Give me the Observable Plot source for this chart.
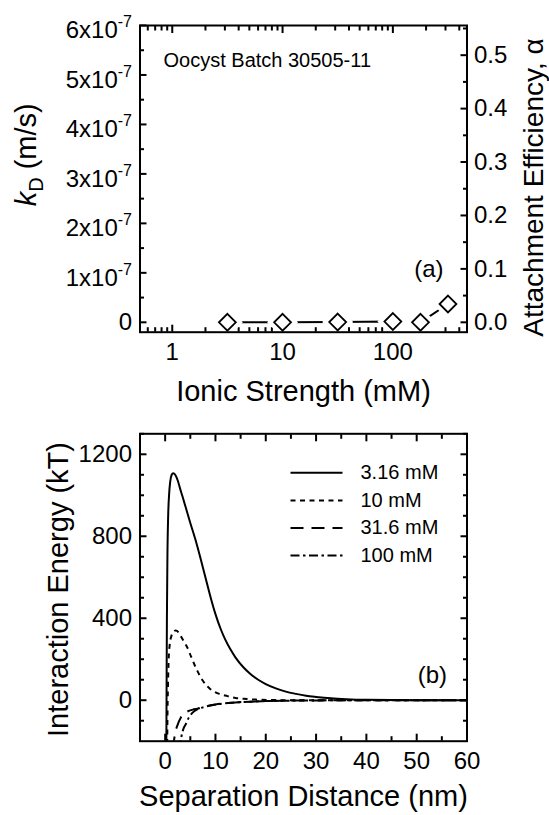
<!DOCTYPE html>
<html><head><meta charset="utf-8">
<script src="https://cdn.jsdelivr.net/npm/d3@7"></script>
<script src="https://cdn.jsdelivr.net/npm/@observablehq/plot@0.6"></script>
<style>
body{margin:0;background:#fff;}
#chart{width:549px;}
svg{display:block;}
</style></head><body><div id="chart"></div>
<script>
// ---------- Panel (a) data ----------
const ionicStrength = [3.16, 10, 31.6, 100, 178, 316];           // mM
const kD = [0, 0, 0.005e-7, 0.015e-7, 0, 0.37e-7];               // m/s
const kdTicks = [0, 1e-7, 2e-7, 3e-7, 4e-7, 5e-7, 6e-7];
const kdTickLabels = ["0", "1x10^-7", "2x10^-7", "3x10^-7", "4x10^-7", "5x10^-7", "6x10^-7"];
const kdMinorTicks = [0.5e-7, 1.5e-7, 2.5e-7, 3.5e-7, 4.5e-7, 5.5e-7];
const alphaTicks = [0, 0.1, 0.2, 0.3, 0.4, 0.5];
const alphaTickLabels = ["0.0", "0.1", "0.2", "0.3", "0.4", "0.5"];
const alphaMinorTicks = [0.05, 0.15, 0.25, 0.35, 0.45, 0.55];
const kdPerAlpha = 1.08e-6;   // right axis: alpha = kD / kdPerAlpha
const isTicks = [1, 10, 100];
const isTickLabels = ["1", "10", "100"];
const isMinorTicks = [0.6, 0.7, 0.8, 0.9, 2, 3, 4, 5, 6, 7, 8, 9, 20, 30, 40, 50, 60, 70, 80, 90, 200, 300, 400];

// ---------- Panel (b) data ----------
const dist316 = [0.2, 0.25, 0.3, 0.35, 0.45, 0.6, 0.8, 1.0, 1.3, 1.6, 2.0, 2.5, 3.0, 3.5, 4.1, 5.0, 6.0, 7.0, 8.0, 9.0, 10.0, 11.0, 12.0, 13.0, 14.0, 15.5, 17.0, 18.5, 20.0, 22.0, 24.0, 26.0, 28.0, 30.0, 33.0, 36.0, 40.0, 45.0, 50.0, 60.0];
const energy316 = [-260, -150, 150, 400, 700, 900, 1010, 1065, 1100, 1108, 1100, 1072, 1030, 990, 940, 865, 785, 695, 600, 505, 420, 350, 293, 247, 208, 162, 127, 100, 79, 58, 42, 31, 22, 16, 9, 5, 2, 1, 0, 0];
const dist10 = [0.4, 0.45, 0.55, 0.7, 0.9, 1.2, 1.6, 2.1, 2.7, 3.3, 4.0, 4.4, 5.2, 6.4, 7.5, 9.0, 10.5, 12.4, 14.0, 15.6, 18.0, 21.0, 25.0, 30.0, 60.0];
const energy10 = [-260, -100, 60, 200, 270, 310, 332, 340, 330, 305, 275, 257, 210, 143, 95, 54, 33, 20, 11, 7, 3, 1, 0, 0, 0];
const dist31 = [1.6, 1.75, 2.0, 2.4, 3.1, 3.8, 4.7, 5.5, 6.4, 8.0, 10.0, 12.0, 14.0, 17.0, 20.0, 25.0, 30.0, 35.0, 45.0, 60.0];
const energy31 = [-240, -200, -160, -125, -85, -65, -52, -46, -41, -30, -21, -15, -11, -7, -4, -2, -1, 0, 0, 0];
const dist100 = [2.9, 3.0, 3.3, 3.7, 4.1, 4.7, 5.4, 6.4, 7.5, 9.0, 11.0, 13.5, 17.0, 20.0, 25.0, 30.0, 35.0, 45.0, 60.0];
const energy100 = [-240, -210, -170, -135, -117, -85, -62, -45, -35, -26, -18, -12, -7, -4, -2, -1, 0, 0, 0];
const seriesLabels = ["3.16 mM", "10 mM", "31.6 mM", "100 mM"];
const distTicks = [0, 10, 20, 30, 40, 50, 60];
const distTickLabels = ["0", "10", "20", "30", "40", "50", "60"];
const distMinorTicks = [5, 15, 25, 35, 45, 55];
const energyTicks = [0, 400, 800, 1200];
const energyTickLabels = ["0", "400", "800", "1200"];
const energyMinorTicks = [-100, 100, 200, 300, 500, 600, 700, 900, 1000, 1100, 1300];

// ---------- styles ----------
const FONT = "'Liberation Sans', Arial, Helvetica, sans-serif";
const dashStyles = [null, "5,4.5", "13,8", "9,3.5,2.5,3.5"];
const lineShape = {draw(context, l) { context.moveTo(0, 0); context.lineTo(0, -l); }};

function ticksY(values, anchor, size) {
  return Plot.axisY(values, {anchor, tickSize: size, dx: anchor === "left" ? size : -size,
    tickFormat: () => "", label: null, strokeWidth: 2});
}
function ticksX(values, anchor, size) {
  return Plot.axisX(values, {anchor, tickSize: size, dy: anchor === "bottom" ? -size : size,
    tickFormat: () => "", label: null, strokeWidth: 2});
}
function labelsY(values, labels, anchor, pad, fs) {
  const m = new Map(values.map((v, i) => [v, labels[i]]));
  return Plot.axisY(values, {anchor, tickSize: 0, tickPadding: pad, tickFormat: d => m.get(d), label: null, fontSize: fs});
}
function labelsX(values, labels, anchor, pad, fs) {
  const m = new Map(values.map((v, i) => [v, labels[i]]));
  return Plot.axisX(values, {anchor, tickSize: 0, tickPadding: pad, tickFormat: d => m.get(d), label: null, fontSize: fs});
}
const style = {fontFamily: FONT, fontSize: "24px", background: "white", color: "black", overflow: "visible"};

// ---------- Panel (a) ----------
const tableA = ionicStrength.map((I, i) => ({I, kD: kD[i]}));
const alphaPos = alphaTicks.map(a => a * kdPerAlpha);
const alphaMinorPos = alphaMinorTicks.map(a => a * kdPerAlpha);

const plotA = Plot.plot({
  width: 549, height: 410,
  marginLeft: 139.5, marginRight: 82.5, marginTop: 25, marginBottom: 78.3,
  x: {type: "log", domain: [0.51, 470]},
  y: {domain: [-0.2e-7, 6e-7]},
  style,
  marks: [
    ticksY(kdTicks, "left", 7), ticksY(kdMinorTicks, "left", 4.5),
    ticksY(alphaPos, "right", 7), ticksY(alphaMinorPos, "right", 4.5),
    ticksX(isTicks, "bottom", 7), ticksX(isMinorTicks, "bottom", 4.5),
    ticksX(isTicks, "top", 7), ticksX(isMinorTicks, "top", 4.5),
    labelsY(kdTicks, kdTickLabels, "left", 8, 24),
    labelsY(alphaPos, alphaTickLabels, "right", 7, 24),
    labelsX(isTicks, isTickLabels, "bottom", 11, 24),
    Plot.line(tableA, {x: "I", y: "kD", stroke: "black", strokeWidth: 2}),
    Plot.dot(tableA, {x: "I", y: "kD", symbol: "diamond2", r: 7.6, fill: "white", stroke: "white", strokeWidth: 10}),
    Plot.dot(tableA, {x: "I", y: "kD", symbol: "diamond2", r: 7.6, fill: "white", stroke: "black", strokeWidth: 1.8}),
    Plot.text(["Oocyst Batch 30505-11"], {frameAnchor: "top-left", dx: 23.5, dy: 35, textAnchor: "start", lineAnchor: "middle", fontSize: 20}),
    Plot.text(["(a)"], {frameAnchor: "bottom-right", dx: -23.5, dy: -63.2, textAnchor: "end", lineAnchor: "middle", fontSize: 24}),
    Plot.text(["Ionic Strength (mM)"], {frameAnchor: "bottom", dy: 59.8, textAnchor: "middle", lineAnchor: "middle", fontSize: 29}),
    Plot.text(["kD (m/s)"], {frameAnchor: "left", dx: -112.8, dy: -24, rotate: -90, textAnchor: "middle", lineAnchor: "middle", fontSize: 29}),
    Plot.text(["Attachment Efficiency, α"], {frameAnchor: "right", dx: 67.5, dy: 8.7, rotate: -90, textAnchor: "middle", lineAnchor: "middle", fontSize: 28}),
    Plot.frame({stroke: "black", strokeWidth: 2})
  ]
});

// ---------- Panel (b) ----------
const seriesData = [[dist316, energy316], [dist10, energy10], [dist31, energy31], [dist100, energy100]];
const curveMarks = seriesData.map(([ds, es], k) => {
  const rows = ds.map((d, i) => ({d, e: es[i]}));
  return Plot.line(rows, {x: "d", y: "e", stroke: "black", strokeWidth: 2, strokeDasharray: dashStyles[k],
    strokeLinecap: "butt", curve: "monotone-x", clip: true});
});
const legendMarks = seriesLabels.flatMap((lab, k) => [
  Plot.vector([0], {frameAnchor: "top-left", dx: 150.5, dy: 39 + k * 27.6, length: 52, rotate: 90, anchor: "start",
    shape: lineShape, stroke: "black", strokeWidth: 2, strokeDasharray: dashStyles[k], strokeLinecap: "butt"}),
  Plot.text([lab], {frameAnchor: "top-left", dx: 220.5, dy: 39 + k * 27.6, textAnchor: "start", lineAnchor: "middle", fontSize: 20})
]);

const plotB = Plot.plot({
  width: 549, height: 405,
  marginLeft: 139.5, marginRight: 82.5, marginTop: 23.3, marginBottom: 74.3,
  x: {domain: [-5, 60]},
  y: {domain: [-200, 1300]},
  style,
  marks: [
    ticksY(energyTicks, "left", 7), ticksY(energyMinorTicks, "left", 4.5),
    ticksY(energyTicks, "right", 7), ticksY(energyMinorTicks, "right", 4.5),
    ticksX(distTicks, "bottom", 7), ticksX(distMinorTicks, "bottom", 4.5),
    ticksX(distTicks, "top", 7), ticksX(distMinorTicks, "top", 4.5),
    labelsY(energyTicks, energyTickLabels, "left", 8, 24),
    labelsX(distTicks, distTickLabels, "bottom", 11, 24),
    ...curveMarks,
    ...legendMarks,
    Plot.text(["(b)"], {frameAnchor: "bottom-right", dx: -20, dy: -65.7, textAnchor: "end", lineAnchor: "middle", fontSize: 24}),
    Plot.text(["Separation Distance (nm)"], {frameAnchor: "bottom", dy: 55.8, textAnchor: "middle", lineAnchor: "middle", fontSize: 29}),
    Plot.text(["Interaction Energy (kT)"], {frameAnchor: "left", dx: -81, dy: 2, rotate: -90, textAnchor: "middle", lineAnchor: "middle", fontSize: 29}),
    Plot.frame({stroke: "black", strokeWidth: 2})
  ]
});

const chart = document.getElementById("chart");
chart.appendChild(plotA);
chart.appendChild(plotB);

// rich text: superscripts in tick labels, italic k with subscript D
d3.select(plotA).selectAll("text").each(function() {
  const t = this.textContent;
  if (t.includes("^")) {
    const [main, sup] = t.split("^");
    const sel = d3.select(this);
    sel.text(null);
    sel.append("tspan").attr("dy", 5).text(main);
    sel.append("tspan").attr("dy", -11).attr("font-size", 16).text(sup);
  } else if (t === "kD (m/s)") {
    const sel = d3.select(this);
    sel.text(null);
    sel.append("tspan").attr("font-style", "italic").text("k");
    sel.append("tspan").attr("dy", 7).attr("font-size", 20).text("D");
    sel.append("tspan").attr("dy", -7).text(" (m/s)");
  }
});
</script>
</body></html>
